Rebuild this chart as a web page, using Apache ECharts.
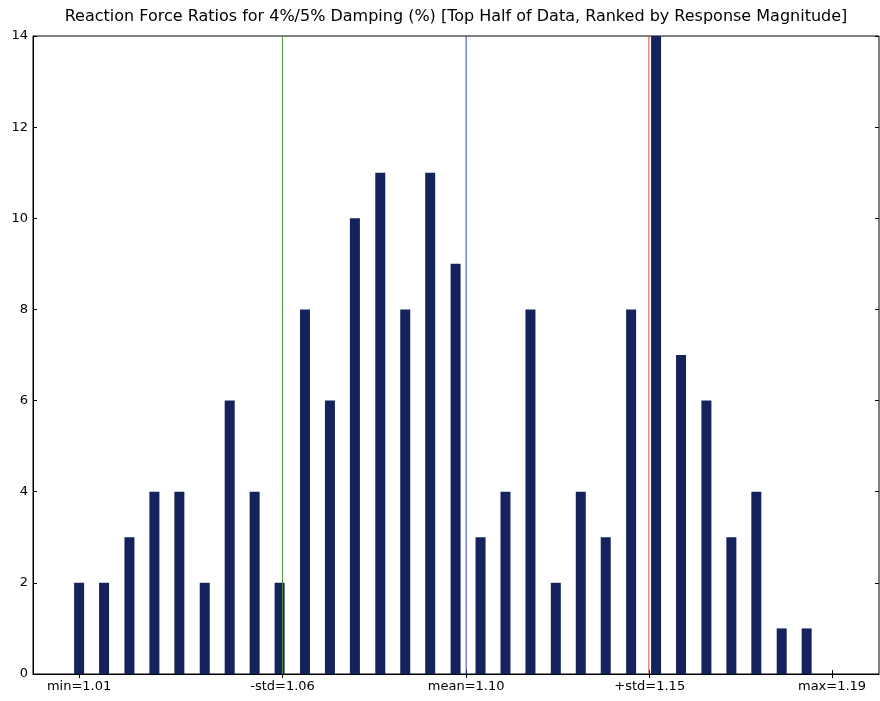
<!DOCTYPE html>
<html>
<head>
<meta charset="utf-8">
<title>Reaction Force Ratios</title>
<script src="https://cdn.jsdelivr.net/npm/echarts@6/dist/echarts.min.js"></script>
<style>
html,body{margin:0;padding:0;background:#fff;}
#echartMain{width:880px;height:701px;}
</style>
</head>
<body>
<div id="echartMain"></div>
<script>
// bin positions (left edge of each bin) and counts
var binStarts=[1.0109,1.0168,1.0228,1.0287,1.0346,1.0406,1.0465,1.0524,1.0583,1.0643,
               1.0702,1.0761,1.0821,1.0880,1.0939,1.0999,1.1058,1.1117,1.1176,1.1236,
               1.1295,1.1354,1.1414,1.1473,1.1532,1.1592,1.1651,1.1710,1.1770,1.1829];
var counts=[2,2,3,4,4,2,6,4,2,8,6,10,11,8,11,9,3,4,8,2,4,3,8,14,7,6,3,4,1,1];

// stats markers: value and label text
var statValues=[1.0109,1.0590,1.1024,1.1458,1.1889];
var statLabels=['min=1.01','-std=1.06','mean=1.10','+std=1.15','max=1.19'];
var lineValues=[1.0590,1.1024,1.1456];
var lineColors=['#4a9630','#2a48b0','#e0452a'];
var yTicks=[0,2,4,6,8,10,12,14];

function statLabel(value){
    for(var i=0;i<statValues.length;i++){
        if(Math.abs(statValues[i]-value)<1e-6) return statLabels[i];
    }
    return '';
}

function setEchart(){
    var myChart=echarts.init(document.getElementById('echartMain'));
    var barData=[];
    for(var i=0;i<binStarts.length;i++){
        barData.push([binStarts[i],counts[i]]);
    }
    var tickFont={fontFamily:'DejaVu Sans',fontSize:13,color:'#000'};
    var series=[{
        type:'bar',
        xAxisIndex:0,yAxisIndex:0,
        data:barData,
        barWidth:10,
        itemStyle:{color:'#14235c'},
        z:2
    }];
    // vertical stat lines, full height of the plot
    for(var j=0;j<lineValues.length;j++){
        series.push({
            type:'line',
            xAxisIndex:0,yAxisIndex:0,
            data:[[lineValues[j],0],[lineValues[j],14]],
            symbol:'none',
            lineStyle:{color:lineColors[j],width:1},
            silent:true,
            z:3
        });
    }
    var option={
        animation:false,
        title:{
            text:'Reaction Force Ratios for 4%/5% Damping (%) [Top Half of Data, Ranked by Response Magnitude]',
            left:451,top:4,textAlign:'center',
            textStyle:{fontFamily:'DejaVu Sans',fontSize:16,fontWeight:'normal',color:'#000'}
        },
        grid:{left:33,right:1,top:36,bottom:27,show:true,borderColor:'#000',borderWidth:1,backgroundColor:'#fff'},
        xAxis:[{
            type:'value',min:1.0,max:1.2,
            axisLine:{show:true,lineStyle:{color:'#000'}},
            axisTick:{show:true,inside:true,length:4,customValues:statValues,lineStyle:{color:'#000'}},
            axisLabel:Object.assign({customValues:statValues,margin:6,formatter:function(v){return statLabel(v);}},tickFont),
            splitLine:{show:false}
        },{
            type:'value',min:1.0,max:1.2,position:'top',
            axisLine:{show:false},
            axisTick:{show:true,inside:true,length:4,customValues:statValues,lineStyle:{color:'#000'}},
            axisLabel:{show:false},
            splitLine:{show:false}
        }],
        yAxis:[{
            type:'value',min:0,max:14,interval:2,
            axisLine:{show:true,lineStyle:{color:'#000'}},
            axisTick:{show:true,inside:true,length:4,lineStyle:{color:'#000'}},
            axisLabel:Object.assign({margin:5,formatter:function(v){return yTicks.indexOf(v)>=0?String(v):'';}},tickFont),
            splitLine:{show:false}
        },{
            type:'value',min:0,max:14,interval:2,position:'right',
            axisLine:{show:false},
            axisTick:{show:true,inside:true,length:4,lineStyle:{color:'#000'}},
            axisLabel:{show:false},
            splitLine:{show:false}
        }],
        series:series
    };
    myChart.setOption(option);
}

setEchart();
</script>
</body>
</html>
